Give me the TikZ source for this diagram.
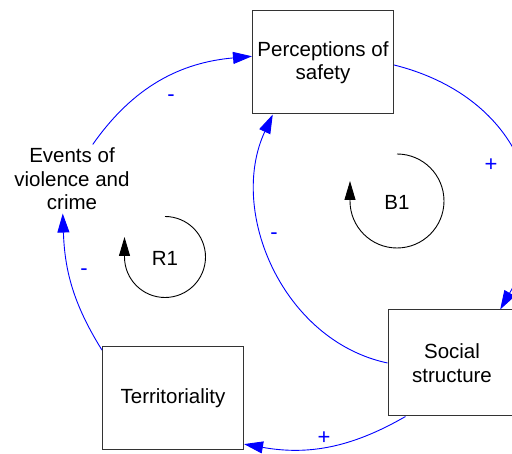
\documentclass[tikz,border=0pt]{standalone}
\usepackage{fontspec}
\setmainfont{Liberation Sans}
\usetikzlibrary{arrows.meta}

\begin{document}
\begin{tikzpicture}[x=1pt,y=1pt]
\definecolor{lnk}{rgb}{0,0,1}
\definecolor{bx}{rgb}{0.2,0.2,0.2}
\tikzset{
  var/.style={draw=bx,line width=1pt,minimum width=141pt,minimum height=103pt,align=center,font=\fontsize{20.5}{23.5}\selectfont},
  link/.style={draw=lnk,line width=0.9pt,-{Triangle[length=19pt,width=12pt]}},
  sign/.style={text=lnk,font=\fontsize{22}{22}\selectfont},
  loopar/.style={line width=0.9pt,-{Triangle[length=19pt,width=11pt]}}
}
\useasboundingbox (0,0) rectangle (512,454);

\node[var] (persp) at (323,391.5) {Perceptions of\\safety};
\node[var,minimum width=128pt,minimum height=106pt] (social) at (452,91) {Social\\structure};
\node[var] (territ) at (173,56) {Territoriality};
\node[align=center,font=\fontsize{20.5}{23.5}\selectfont] (events) at (72,275) {Events of\\violence and\\crime};

\draw[link] (events.59) to[out=55,in=185] (persp.175);
\draw[link] (persp.-2) to[out=-14,in=60,looseness=1.2] (social.48);
\draw[link] (social.west) to[out=168,in=245] (persp.226);
\draw[link] (social.229) to[out=210,in=-10] (territ.-33);
\draw[link] (territ.146) to[out=122,in=-88] (events.-105);

\node[sign] (pol1) at (171,356) {-};
\node[sign] (pol2) at (491,289) {+};
\node[sign] (pol3) at (274,218) {-};
\node[sign] (pol4) at (324,16) {+};
\node[sign] (pol5) at (84,182) {-};

\draw[loopar] (165,237.5) arc[start angle=90,end angle=-180,radius=40.5] -- ++(0,20);
\node[font=\fontsize{20.5}{23.5}\selectfont] (r1) at (165,196) {R1};
\draw[loopar] (397,300) arc[start angle=90,end angle=-180,radius=47] -- ++(0,20);
\node[font=\fontsize{20.5}{23.5}\selectfont] (b1) at (397,252) {B1};
\end{tikzpicture}
\end{document}
